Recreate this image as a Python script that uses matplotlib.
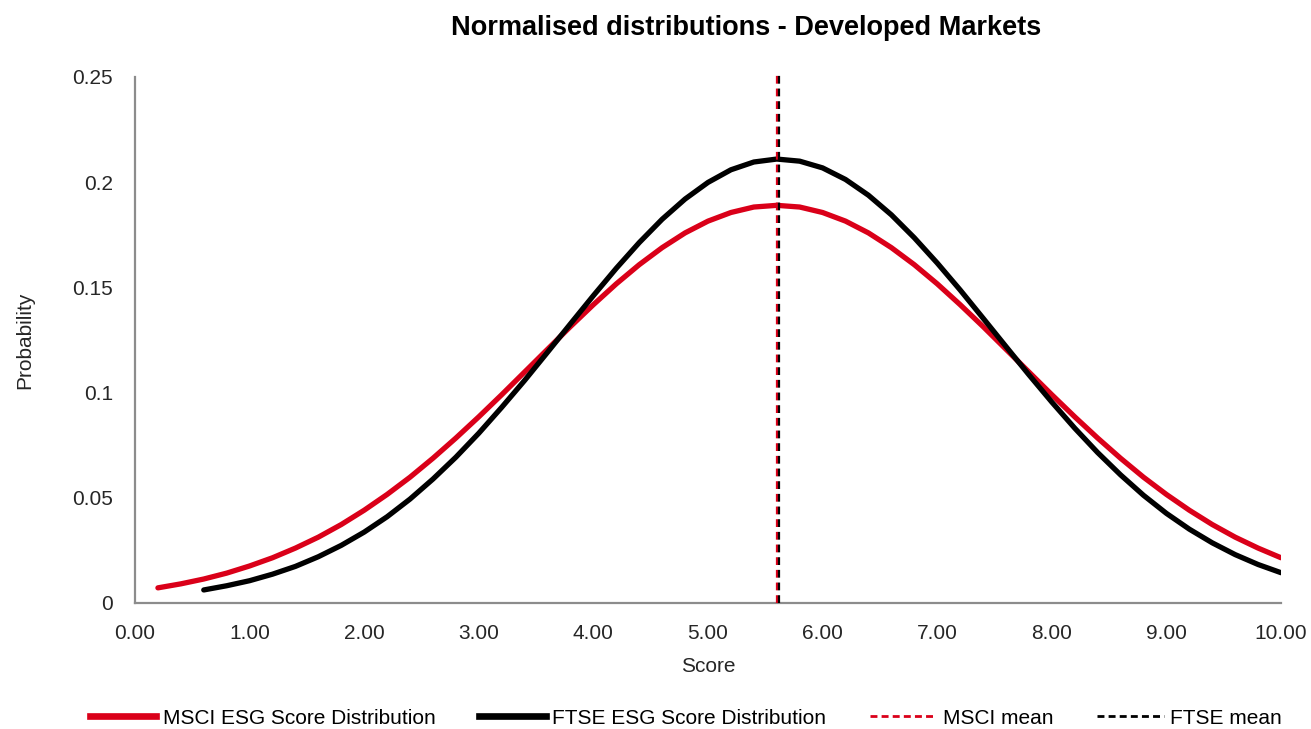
import matplotlib
matplotlib.use("Agg")
import matplotlib.pyplot as plt
from matplotlib.lines import Line2D

plt.rcParams['font.family'] = ['Liberation Sans', 'DejaVu Sans']

# ---- data ----
msci_x = [0.2, 0.4, 0.6, 0.8, 1.0, 1.2, 1.4, 1.6, 1.8, 2.0, 2.2, 2.4, 2.6, 2.8, 3.0,
          3.2, 3.4, 3.6, 3.8, 4.0, 4.2, 4.4, 4.6, 4.8, 5.0, 5.2, 5.4, 5.6, 5.8, 6.0,
          6.2, 6.4, 6.6, 6.8, 7.0, 7.2, 7.4, 7.6, 7.8, 8.0, 8.2, 8.4, 8.6, 8.8, 9.0,
          9.2, 9.4, 9.6, 9.8, 10.0]
msci_y = [0.0072, 0.0091, 0.0114, 0.0142, 0.0176, 0.0215, 0.0261, 0.0313, 0.0373, 0.0441,
          0.0516, 0.0598, 0.0688, 0.0784, 0.0885, 0.0990, 0.1098, 0.1206, 0.1314, 0.1418,
          0.1517, 0.1608, 0.1689, 0.1759, 0.1815, 0.1856, 0.1882, 0.1890, 0.1882, 0.1856,
          0.1815, 0.1759, 0.1689, 0.1608, 0.1517, 0.1418, 0.1314, 0.1206, 0.1098, 0.0990,
          0.0885, 0.0784, 0.0688, 0.0598, 0.0516, 0.0441, 0.0373, 0.0313, 0.0261, 0.0215]

ftse_x = [0.6, 0.8, 1.0, 1.2, 1.4, 1.6, 1.8, 2.0, 2.2, 2.4, 2.6, 2.8, 3.0, 3.2, 3.4,
          3.6, 3.8, 4.0, 4.2, 4.4, 4.6, 4.8, 5.0, 5.2, 5.4, 5.6, 5.8, 6.0, 6.2, 6.4,
          6.6, 6.8, 7.0, 7.2, 7.4, 7.6, 7.8, 8.0, 8.2, 8.4, 8.6, 8.8, 9.0, 9.2, 9.4,
          9.6, 9.8, 10.0]
ftse_y = [0.0062, 0.0082, 0.0106, 0.0137, 0.0174, 0.0220, 0.0274, 0.0337, 0.0410, 0.0494,
          0.0589, 0.0693, 0.0807, 0.0930, 0.1058, 0.1192, 0.1327, 0.1461, 0.1591, 0.1713,
          0.1824, 0.1920, 0.1999, 0.2059, 0.2096, 0.2110, 0.2100, 0.2068, 0.2013, 0.1938,
          0.1845, 0.1736, 0.1616, 0.1488, 0.1354, 0.1219, 0.1085, 0.0955, 0.0831, 0.0715,
          0.0609, 0.0512, 0.0426, 0.0351, 0.0286, 0.0230, 0.0183, 0.0144]

msci_mean = 5.60
ftse_mean = 5.62

x_ticks = [0, 1, 2, 3, 4, 5, 6, 7, 8, 9, 10]
x_tick_labels = ["0.00", "1.00", "2.00", "3.00", "4.00", "5.00", "6.00", "7.00", "8.00", "9.00", "10.00"]
y_ticks = [0, 0.05, 0.1, 0.15, 0.2, 0.25]
y_tick_labels = ["0", "0.05", "0.1", "0.15", "0.2", "0.25"]

RED = '#DA0019'
BLACK = '#000000'
GREY = '#8C8C8C'
TXT = '#262626'

fig = plt.figure(figsize=(13.11, 7.29), dpi=100)
ax = fig.add_axes([135/1311, 1-603/729, (1281-135)/1311, (603-77)/729])

ax.plot(msci_x, msci_y, color=RED, lw=3.8, solid_capstyle='round', solid_joinstyle='round', zorder=3)
ax.plot(ftse_x, ftse_y, color=BLACK, lw=3.8, solid_capstyle='round', solid_joinstyle='round', zorder=3)
ax.plot([msci_mean, msci_mean], [0, 0.252], color=RED, lw=1.6, ls=(0, (3.5, 2.2)), zorder=4, clip_on=False)
ax.plot([ftse_mean, ftse_mean], [0, 0.252], color=BLACK, lw=1.6, ls=(0, (3.5, 2.2)), zorder=4, clip_on=False)

ax.set_xlim(0, 10)
ax.set_ylim(0, 0.25)
ax.set_xticks(x_ticks)
ax.set_xticklabels(x_tick_labels)
ax.set_yticks(y_ticks)
ax.set_yticklabels(y_tick_labels)
ax.tick_params(axis='both', length=0, labelsize=15, colors=TXT)
ax.tick_params(axis='x', pad=15)
ax.tick_params(axis='y', pad=16)
for s in ['top', 'right']:
    ax.spines[s].set_visible(False)
for s in ['left', 'bottom']:
    ax.spines[s].set_color(GREY)
    ax.spines[s].set_linewidth(1.6)

ax.set_xlabel("Score", fontsize=15, color=TXT, labelpad=10)
ax.set_ylabel("Probability", fontsize=15, color=TXT, labelpad=27)
fig.text(746/1311, 1-28/729, "Normalised distributions - Developed Markets", ha='center', va='center',
         fontsize=19.5, fontweight='bold')

handles = [
    Line2D([], [], color=RED, lw=4.8),
    Line2D([], [], color=BLACK, lw=4.8),
    Line2D([], [], color=RED, lw=2, ls=(0, (2.5, 1.5))),
    Line2D([], [], color=BLACK, lw=2, ls=(0, (2.5, 1.5))),
]
labels = ["MSCI ESG Score Distribution", "FTSE ESG Score Distribution", "MSCI mean", "FTSE mean"]
fig.legend(handles, labels, loc='center', bbox_to_anchor=(0.523, 1-718/729), ncol=4, frameon=False,
           fontsize=15, handlelength=3.2, handletextpad=0.3, columnspacing=2.1)

fig.savefig("out.png", dpi=100)
